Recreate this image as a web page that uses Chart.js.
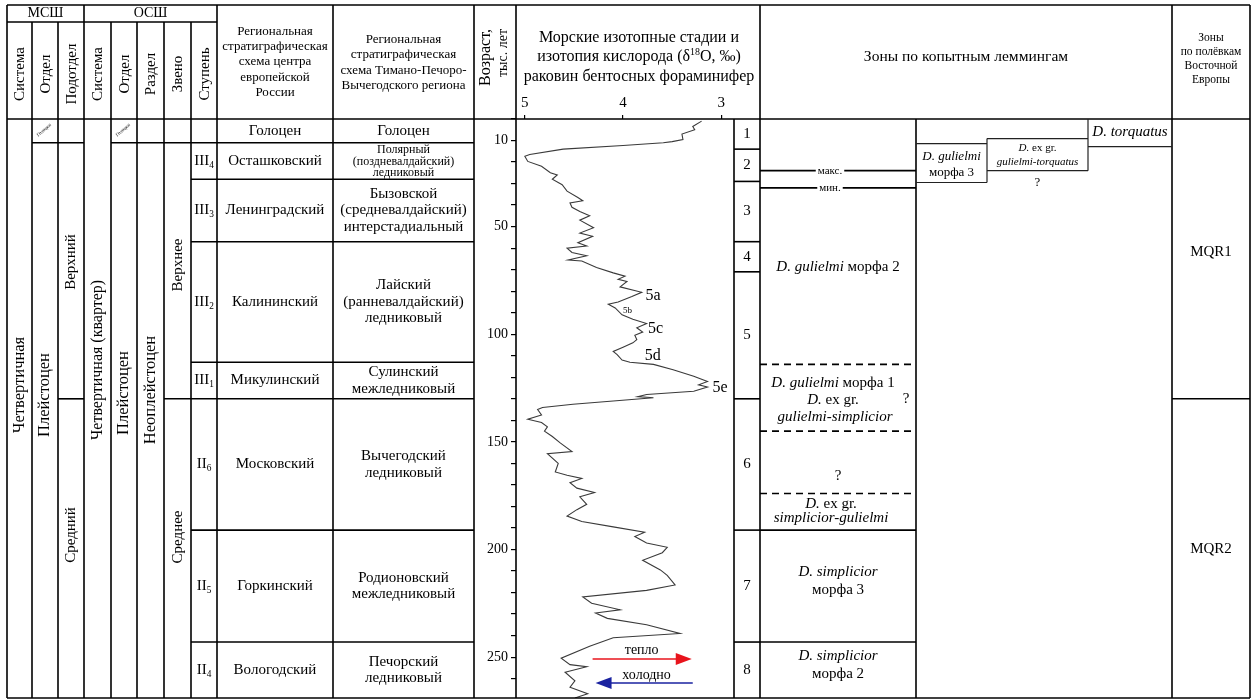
<!DOCTYPE html>
<html><head><meta charset="utf-8">
<style>html,body{margin:0;padding:0;background:#fff;}#wrap{width:1257px;height:700px;}</style>
<script src="https://cdn.jsdelivr.net/npm/chart.js@4/dist/chart.umd.min.js"></script>
</head><body><div id="wrap"><canvas id="c" width="1257" height="700"></canvas></div>
<script>
// ---------- DATA ----------
const ages = [1,3.5,5,7,9.5,10.5,11,12.3,14,16.5,17.3,19.7,22,25,26,28,30.5,33.5,36.5,38,39,41,43,45,47,50.5,53,54.5,57.5,59,60,62,63.5,65.5,66,69,71.5,73,74.5,75.5,78,80.5,82.5,85,86,87.8,91,93,95,97,99,100.5,102.5,104,106,108,109.5,112,113,114,116.5,119.5,122,123.5,124.5,126.5,128,129,129.5,131,132.5,134,135,137.5,139.5,141,143,145,147.5,150.5,154.5,155.5,160,164,165.5,167,169,171.5,173.5,175.5,179,181.5,184.5,187,189.5,192,194,197,199,201.5,205,209.5,212,216.5,219,222,225,228,229.5,232,235,239,241,245,250.5,253.5,254.5,257,261,264,267,269];
const d18O = [3.20,3.29,3.27,3.40,3.39,3.50,3.59,4.00,4.61,4.95,5.00,4.97,4.83,4.74,4.67,4.72,4.62,4.57,4.46,4.41,4.54,4.52,4.44,4.34,4.44,4.30,4.44,4.31,4.46,4.37,4.57,4.52,4.37,4.56,4.42,4.27,4.10,3.98,4.05,3.96,4.03,3.81,3.91,4.05,4.15,4.08,4.01,3.90,3.76,3.86,3.80,3.88,3.86,3.90,4.00,4.10,4.06,4.01,3.93,3.69,3.49,3.28,3.14,3.23,3.14,3.28,3.76,3.85,3.69,4.10,4.51,4.82,4.87,4.83,4.97,4.83,4.77,4.80,4.72,4.64,4.52,4.77,4.66,4.69,4.57,4.42,4.54,4.47,4.29,4.44,4.37,4.47,4.57,4.42,4.10,3.78,3.88,3.76,3.55,3.60,3.80,3.62,3.55,3.47,3.76,4.41,4.32,4.03,4.28,4.16,3.76,3.42,4.10,4.34,4.63,4.54,4.37,4.59,4.49,4.54,4.36,4.49];
const xTicks = [5,4,3];
const yTickLabels = [10,50,100,150,200,250];
const misBounds = [14,29,57,71,130,191,243];
const misLabels = ['1','2','3','4','5','6','7','8'];
const misCenters = [7,21.5,43,64,100.5,160.5,217,256];
const subLabels = ['5a','5b','5c','5d','5e'];
const subD = [3.77,4.00,3.745,3.78,3.09];
const subAge = [82,89,97.5,110,125];
const regBounds = [0,11,28,57,113,130,191,243,269];
const stepNames = [null,['III','4'],['III','3'],['III','2'],['III','1'],['II','6'],['II','5'],['II','4']];
const centerNames = ['Голоцен','Осташковский','Ленинградский','Калининский','Микулинский','Московский','Горкинский','Вологодский'];
const timanNames = [['Голоцен'],['Полярный','(поздневалдайский)','ледниковый'],['Бызовской','(средневалдайский)','интерстадиальный'],['Лайский','(ранневалдайский)','ледниковый'],['Сулинский','межледниковый'],['Вычегодский','ледниковый'],['Родионовский','межледниковый'],['Печорский','ледниковый']];
const lemMaxMin = [24,32];
const lemDashed = [114,145,174];
const lemSolid = [191,243];
const mqrBound = 130;
const mqrLabels = ['MQR1','MQR2'];
const mqrCenters = [62,200];

// ---------- DRAW HELPERS ----------
const FONT = '"Liberation Serif","Times New Roman",serif';
function sf(ctx,size,it){ctx.font=(it?'italic ':'')+size+'px '+FONT;}
// seg: [text, italic, script]  script: 1 = subscript, 2 = superscript
function rich(ctx,segs,cx,cy,size,align){
  align=align||'center';let w=0;const ws=[];
  segs.forEach(s=>{sf(ctx,s[2]?size*0.62:size,s[1]);const m=ctx.measureText(s[0]).width;ws.push(m);w+=m;});
  let x=align==='center'?cx-w/2:(align==='right'?cx-w:cx);
  ctx.textAlign='left';ctx.textBaseline='middle';
  segs.forEach((s,i)=>{sf(ctx,s[2]?size*0.62:size,s[1]);const dy=s[2]===1?size*0.3:(s[2]===2?-size*0.28:0);ctx.fillText(s[0],x,cy+dy);x+=ws[i];});
}
function block(ctx,arr,cx,cy,size,lh){const n=arr.length;arr.forEach((t,i)=>rich(ctx,typeof t==='string'?[[t,false]]:t,cx,cy+(i-(n-1)/2)*lh,size));}
function vtext(ctx,t,cx,cy,size,align){ctx.save();ctx.translate(cx,cy);ctx.rotate(-Math.PI/2);sf(ctx,size);ctx.textAlign=align||'center';ctx.textBaseline='middle';ctx.fillText(t,0,0);ctx.restore();}
function hl(ctx,x1,x2,y){ctx.beginPath();ctx.moveTo(x1,y);ctx.lineTo(x2,y);ctx.stroke();}
function vl(ctx,x,y1,y2){ctx.beginPath();ctx.moveTo(x,y1);ctx.lineTo(x,y2);ctx.stroke();}

const C={L:7,s1:32,s2:58,s3:84,s4:111,s5:137,s6:164,s7:191,s8:217,r1:333,r2:474,age:516,mis:734,lz:760,lz1:916,lz2:987,lz3:1088,mq:1172,R:1250,top:5,mid:22};

const tablePlugin={id:'table',afterDraw(chart){
  const ctx=chart.ctx,xs=chart.scales.x,ys=chart.scales.y;
  const Y=a=>ys.getPixelForValue(a), X=d=>xs.getPixelForValue(d);
  const HB=Y(0),BOT=Y(269);
  ctx.save();ctx.fillStyle='#000';ctx.strokeStyle='#000';ctx.lineWidth=1.6;
  hl(ctx,C.L,C.R,C.top);hl(ctx,C.L,C.s8,C.mid);hl(ctx,C.L,C.R,HB);hl(ctx,C.L,C.R,BOT);
  [C.L,C.s3,C.s8,C.r1,C.r2,C.age,C.lz,C.mq,C.R].forEach(x=>vl(ctx,x,C.top,BOT));
  [C.s1,C.s2,C.s4,C.s5,C.s6,C.s7].forEach(x=>vl(ctx,x,C.mid,BOT));
  vl(ctx,C.mis,HB,BOT);vl(ctx,C.lz1,HB,BOT);
  hl(ctx,C.s1,C.s3,Y(regBounds[1]));hl(ctx,C.s4,C.r2,Y(regBounds[1]));
  [2,3,4,6,7].forEach(i=>hl(ctx,C.s7,C.r2,Y(regBounds[i])));
  hl(ctx,C.s2,C.s3,Y(regBounds[5]));hl(ctx,C.s6,C.r2,Y(regBounds[5]));
  misBounds.forEach(b=>hl(ctx,C.mis,C.lz,Y(b)));
  lemSolid.forEach(b=>hl(ctx,C.lz,C.lz1,Y(b)));
  hl(ctx,C.mq,C.R,Y(mqrBound));
  // header texts
  sf(ctx,14);ctx.textAlign='center';ctx.textBaseline='middle';
  ctx.fillText('МСШ',(C.L+C.s3)/2,13.5);ctx.fillText('ОСШ',(C.s3+C.s8)/2,13.5);
  const hdr=['Система','Отдел','Подотдел','Система','Отдел','Раздел','Звено','Ступень'];
  const cols=[C.L,C.s1,C.s2,C.s3,C.s4,C.s5,C.s6,C.s7,C.s8];
  hdr.forEach((t,i)=>vtext(ctx,t,(cols[i]+cols[i+1])/2+1,74,15));
  block(ctx,['Региональная','стратиграфическая','схема центра','европейской','России'],(C.s8+C.r1)/2,62,13,15.3);
  block(ctx,['Региональная','стратиграфическая','схема Тимано-Печоро-','Вычегодского региона'],(C.r1+C.r2)/2,62.5,13,15.3);
  vtext(ctx,'Возраст,',486,29,16,'right');vtext(ctx,'тыс. лет',503,29,14,'right');
  block(ctx,['Морские изотопные стадии и',[['изотопия кислорода (δ',false],['18',false,2],['O, ‰)',false]],'раковин бентосных фораминифер'],(C.age+C.lz)/2+1,57,16,19.5);
  rich(ctx,[['Зоны по копытным леммингам',false]],(C.lz+C.mq)/2,57,15.5);
  block(ctx,['Зоны','по полёвкам','Восточной','Европы'],(C.mq+C.R)/2,59,11.5,14);
  // left column texts
  vtext(ctx,'Четвертичная',20,385,16.5);vtext(ctx,'Плейстоцен',45,395,16.5);
  vtext(ctx,'Верхний',71,262,15);vtext(ctx,'Средний',71,535,15);
  vtext(ctx,'Четвертичная (квартер)',98,360,16);vtext(ctx,'Плейстоцен',124,393,16.5);
  vtext(ctx,'Неоплейстоцен',151,390,16.5);vtext(ctx,'Верхнее',178,265,15);vtext(ctx,'Среднее',178,537,15);
  [44,123].forEach(cx=>{ctx.save();ctx.translate(cx,130);ctx.rotate(-0.7);sf(ctx,5);ctx.textAlign='center';ctx.textBaseline='middle';ctx.fillText('Голоцен',0,0);ctx.restore();});
  for(let i=0;i<8;i++){
    const cy=(Y(regBounds[i])+Y(regBounds[i+1]))/2;
    if(stepNames[i]) rich(ctx,[[stepNames[i][0],false],[stepNames[i][1],false,1]],(C.s7+C.s8)/2,cy,15);
    rich(ctx,[[centerNames[i],false]],(C.s8+C.r1)/2,cy,15);
    const small=i===1;
    block(ctx,timanNames[i],(C.r1+C.r2)/2,cy+(small?0.5:0),small?12:15,small?11.8:16.5);
  }
  misLabels.forEach((t,i)=>rich(ctx,[[t,false]],(C.mis+C.lz)/2,Y(misCenters[i]),15));
  subLabels.forEach((t,i)=>rich(ctx,[[t,false]],X(subD[i]),Y(subAge[i]),t==='5b'?9:16,'left'));
  const ar=(d1,d2,a,col)=>{const x1=X(d1),x2=X(d2),y=Y(a),dir=x2>x1?1:-1;ctx.strokeStyle=col;ctx.fillStyle=col;ctx.lineWidth=1.6;hl(ctx,x1,x2-dir*12,y);
    ctx.beginPath();ctx.moveTo(x2,y);ctx.lineTo(x2-dir*16,y-6);ctx.lineTo(x2-dir*16,y+6);ctx.closePath();ctx.fill();};
  ar(4.31,3.30,250.9,'#e8141c');ar(3.29,4.28,262,'#1a22a0');
  ctx.fillStyle='#000';rich(ctx,[['тепло',false]],X(3.81),Y(247.5)-1,14);rich(ctx,[['холодно',false]],X(3.76),Y(258.3),14);
  // lemming zones
  ctx.strokeStyle='#000';ctx.lineWidth=1.6;
  const mx=830;
  [['макс.',lemMaxMin[0]],['мин.',lemMaxMin[1]]].forEach(([t,a])=>{const y=Y(a);sf(ctx,11);const w=ctx.measureText(t).width;hl(ctx,C.lz,mx-w/2-2,y);hl(ctx,mx+w/2+2,C.lz1,y);rich(ctx,[[t,false]],mx,y,11);});
  ctx.setLineDash([7,5]);lemDashed.forEach(a=>hl(ctx,C.lz,C.lz1,Y(a)));ctx.setLineDash([]);
  ctx.lineWidth=1.2;ctx.strokeStyle='#222';
  hl(ctx,C.lz1,C.lz2,Y(11.4));hl(ctx,C.lz1,C.lz2,Y(29.5));vl(ctx,C.lz2,Y(9.1),Y(29.5));
  hl(ctx,C.lz2,C.lz3,Y(9.1));hl(ctx,C.lz2,C.lz3,Y(24));vl(ctx,C.lz3,HB,Y(24));hl(ctx,C.lz3,C.mq,Y(12.8));
  rich(ctx,[['D. gulielmi',true]],(C.lz1+C.lz2)/2,Y(17.5),13);rich(ctx,[['морфа 3',false]],(C.lz1+C.lz2)/2,Y(25),13);
  rich(ctx,[['D.',true],[' ex gr.',false]],(C.lz2+C.lz3)/2,Y(13.3),11);rich(ctx,[['gulielmi-torquatus',true]],(C.lz2+C.lz3)/2,Y(20.2),11);
  rich(ctx,[['?',false]],(C.lz2+C.lz3)/2,Y(29.5),13);
  rich(ctx,[['D. torquatus',true]],(C.lz3+C.mq)/2,Y(6.3),15);
  const zc=(C.lz+C.lz1)/2;
  rich(ctx,[['D. gulielmi',true],[' морфа 2',false]],zc,Y(69),15);
  rich(ctx,[['D. gulielmi',true],[' морфа 1',false]],zc-5,Y(122.5),15);
  rich(ctx,[['D.',true],[' ex gr.',false]],zc-5,Y(130.5),15);
  rich(ctx,[['gulielmi-simplicior',true]],zc-3,Y(138.5),15);
  rich(ctx,[['?',false]],906,Y(130),15);
  rich(ctx,[['?',false]],zc,Y(166),15);
  rich(ctx,[['D.',true],[' ex gr.',false]],zc-7,Y(178.7),15);
  rich(ctx,[['simplicior-gulielmi',true]],zc-7,Y(185.3),15);
  rich(ctx,[['D. simplicior',true]],zc,Y(210.5),15);rich(ctx,[['морфа 3',false]],zc,Y(219),15);
  rich(ctx,[['D. simplicior',true]],zc,Y(249.5),15);rich(ctx,[['морфа 2',false]],zc,Y(258),15);
  mqrLabels.forEach((t,i)=>rich(ctx,[[t,false]],(C.mq+C.R)/2,Y(mqrCenters[i]),15));
  ctx.restore();
}};

new Chart(document.getElementById('c'),{
  type:'scatter',
  data:{datasets:[{data:ages.map((a,i)=>({x:d18O[i],y:a})),showLine:true,borderColor:'#3a3a3a',borderWidth:1.1,pointRadius:0,tension:0,fill:false}]},
  options:{
    responsive:false,animation:false,devicePixelRatio:1,
    layout:{padding:{left:0,right:1257-734,top:0,bottom:2}},
    plugins:{legend:{display:false},tooltip:{enabled:false}},
    scales:{
      x:{type:'linear',position:'top',reverse:true,min:2.87,max:5.09,
        afterFit:s=>{s.height=119;s.paddingLeft=0;s.paddingRight=0;},
        afterBuildTicks:s=>{s.ticks=xTicks.map(v=>({value:v}));},
        ticks:{color:'#000',font:{family:FONT,size:15},padding:3,maxRotation:0},
        grid:{drawOnChartArea:false,drawTicks:true,tickLength:4,color:'#000',lineWidth:1.2},border:{display:false}},
      y:{type:'linear',reverse:true,min:0,max:269,
        afterFit:s=>{s.width=516;s.paddingTop=0;s.paddingBottom=0;},
        ticks:{stepSize:10,includeBounds:false,autoSkip:false,color:'#000',font:{family:FONT,size:14},padding:3,
          callback:v=>yTickLabels.includes(v)?String(v):''},
        grid:{drawOnChartArea:false,drawTicks:true,tickLength:5,color:'#000',lineWidth:1.2},border:{display:false}}
    }
  },
  plugins:[tablePlugin]
});
</script></body></html>
